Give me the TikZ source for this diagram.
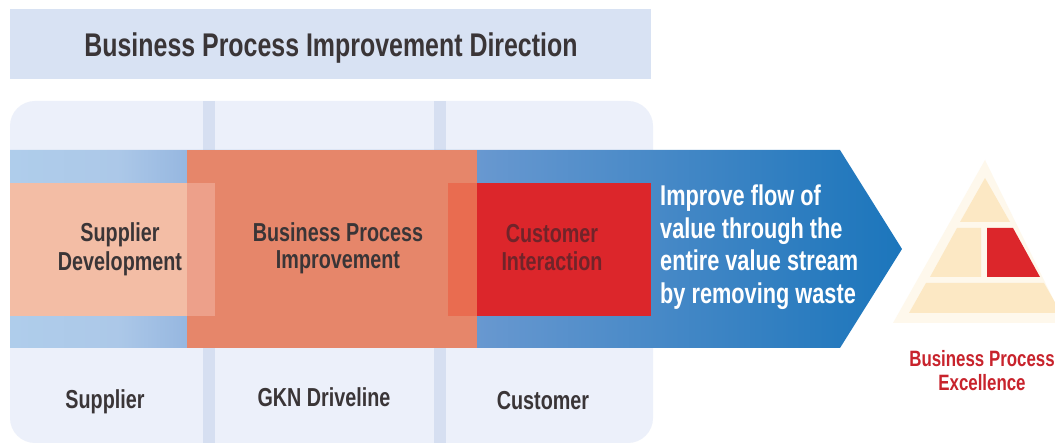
\documentclass[tikz,border=0pt]{standalone}
\usepackage{fontspec}
\setmainfont{Liberation Sans}[BoldFont={Liberation Sans Bold},BoldFeatures={FakeStretch=0.76}]
\definecolor{titlebg}{HTML}{D8E2F3}
\definecolor{panelbg}{HTML}{ECF0FA}
\definecolor{dividerbg}{HTML}{D6DFF1}
\definecolor{orangebox}{HTML}{E6866A}
\definecolor{palebox}{HTML}{F3BDA5}
\definecolor{paleover}{HTML}{EDA08A}
\definecolor{redover}{HTML}{E96C50}
\definecolor{redbox}{HTML}{DC262B}
\definecolor{darktext}{HTML}{3A3537}
\definecolor{redtext}{HTML}{C8232C}
\definecolor{ontext}{HTML}{70242A}
\definecolor{pyrhalo}{HTML}{FEF8EC}
\definecolor{pyrfill}{HTML}{FCE8C4}
\definecolor{flowa}{HTML}{AFCDEB}
\definecolor{flowb}{HTML}{ACC8E8}
\definecolor{flowc}{HTML}{96B7E0}
\definecolor{flowd}{HTML}{6898D0}
\definecolor{flowe}{HTML}{267ABE}
\definecolor{flowf}{HTML}{1C76BC}
\pgfdeclarehorizontalshading{flowshade}{100bp}{
  color(0bp)=(flowa);
  color(25bp)=(flowa);
  color(31bp)=(flowb);
  color(34.9bp)=(flowc);
  color(51.2bp)=(flowd);
  color(71.5bp)=(flowe);
  color(75bp)=(flowf);
  color(100bp)=(flowf)}
\tikzset{
  lab/.style={font=\bfseries\fontsize{26}{27.5}\selectfont,align=center,text=darktext,inner sep=0pt},
  box/.style={inner sep=0pt,draw=none}
}
\begin{document}
\begin{tikzpicture}[x=1pt,y=-1pt]
\useasboundingbox (0,0) rectangle (1055,443);
\fill[white] (0,0) rectangle (1055,443);
% title
\fill[titlebg] (10,9) rectangle (651,79);
\node[lab,font=\bfseries\fontsize{32.8}{35}\selectfont] (title) at (331,48) {Business Process Improvement Direction};
% panel
\fill[panelbg,rounded corners=25pt] (10,101) rectangle (653,443);
\fill[dividerbg] (203,101) rectangle (215,443);
\fill[dividerbg] (434,101) rectangle (446,443);
% arrow
\shade[shading=flowshade] (10,150) -- (840,150) -- (902,249) -- (840,348) -- (10,348) -- cycle;
% boxes
\fill[palebox] (10,183) rectangle (187,316);
\fill[orangebox] (187,150) rectangle (477,348);
\fill[paleover] (187,183) rectangle (215,316);
\fill[redover] (448,183) rectangle (477,316);
\fill[redbox] (477,183) rectangle (651,316);
% labels
\node[lab,font=\bfseries\fontsize{26}{29}\selectfont] (sd) at (120,249) {Supplier\\Development};
\node[lab] (bpi) at (338,248.5) {Business Process\\Improvement};
\node[lab,text=ontext] (ci) at (552,247.5) {Customer\\Interaction};
\node[lab,text=white,align=left,anchor=west,font=\bfseries\fontsize{28.6}{32.5}\selectfont] (improve) at (660,247) {Improve flow of\\value through the\\entire value stream\\by removing waste};
\node[lab] (sup) at (105,401.5) {Supplier};
\node[lab] (gkn) at (324,397) {GKN Driveline};
\node[lab] (cus) at (543,400.5) {Customer};
% pyramid
\fill[pyrhalo] (985,160) -- (1065,323) -- (893,323) -- cycle;
\fill[pyrfill] (985,178) -- (1010,222) -- (960,222) -- cycle;
\fill[pyrfill] (957,228) -- (981,228) -- (981,277) -- (930,277) -- cycle;
\fill[pyrfill] (926,283) -- (1044,283) -- (1061,313) -- (909,313) -- cycle;
\fill[redbox] (987,228) -- (1013,228) -- (1040,277) -- (987,277) -- cycle;
\node[lab,text=redtext,font=\bfseries\fontsize{22.2}{24}\selectfont] (bpe) at (982,371) {Business Process\\Excellence};
\end{tikzpicture}
\end{document}
